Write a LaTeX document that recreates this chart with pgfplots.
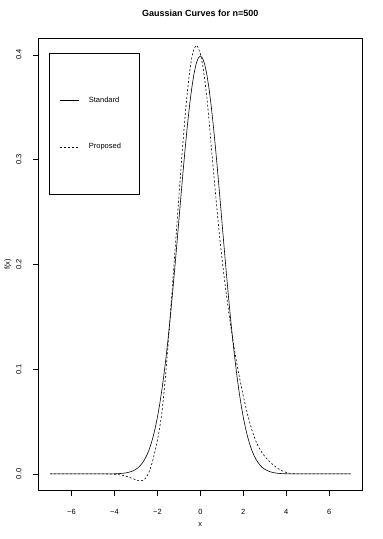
\documentclass[border=0pt]{standalone}
\usepackage{fontspec}
\setmainfont{Liberation Sans}
\usepackage{pgfplots}
\pgfplotsset{compat=1.18}
\begin{document}
\begin{tikzpicture}[font=\fontsize{7.5}{9}\selectfont]
\begin{axis}[
  name=ax,
  scale only axis,
  width=324.7pt, height=452.7pt,
  xmin=-7.56, xmax=7.56,
  ymin=-0.016, ymax=0.416,
  axis line style={black, line width=0.5pt},
  xtick={-6,-4,-2,0,2,4,6},
  xticklabels={−6,−4,−2,0,2,4,6},
  ytick={0,0.1,0.2,0.3,0.4},
  yticklabels={0.0,0.1,0.2,0.3,0.4},
  xtick pos=bottom, ytick pos=left,
  tick align=outside,
  major tick length=5pt,
  tick style={black, line width=0.5pt},
  xticklabel style={anchor=base, inner sep=0pt, yshift=-18.7pt},
  yticklabel style={xshift=-11.3pt, rotate=90, anchor=south, inner sep=0pt},
  title={\bfseries\fontsize{9}{11}\selectfont Gaussian Curves for n=500},
  title style={at={(axis description cs:0.5,1.042)}, anchor=center, inner sep=0pt},
  xlabel={x},
  xlabel style={at={(axis description cs:0.5,-0.0758)}, anchor=center, inner sep=0pt},
  ylabel={f(x)},
  ylabel style={at={(axis description cs:-0.0924,0.5)}, anchor=center, rotate=0, inner sep=0pt},
  legend cell align=left,
  legend style={at={(axis description cs:0.0348,0.9662)}, anchor=north west,
    draw=black, line width=0.5pt, inner sep=0pt, row sep=0pt, column sep=9.3pt,
    nodes={inner sep=0pt, text width=50pt, align=left}},
]
\addplot[black, line width=0.6pt,
  legend image code/.code={\path[draw=none,fill=none] (-10pt,-23.2pt) rectangle (19.7pt,47pt); \draw[black, line width=0.6pt] (0pt,0pt) -- (19.7pt,0pt);}]
coordinates {
(-7,0) (-5,0) (-4.5,0.00002) (-4.0,0.00013) (-3.8,0.00029) (-3.6,0.00061) (-3.4,0.00123) (-3.2,0.00238)
(-3.0,0.00443) (-2.9,0.00595) (-2.8,0.00792) (-2.7,0.01042) (-2.6,0.01358) (-2.5,0.01753)
(-2.4,0.02239) (-2.3,0.02833) (-2.2,0.03547) (-2.1,0.04398) (-2.0,0.05399) (-1.9,0.06562)
(-1.8,0.07895) (-1.7,0.09405) (-1.6,0.11092) (-1.5,0.12952) (-1.4,0.14973) (-1.3,0.17137)
(-1.2,0.19419) (-1.1,0.21785) (-1.0,0.24197) (-0.9,0.26609) (-0.8,0.28969) (-0.7,0.31225)
(-0.6,0.33322) (-0.5,0.35207) (-0.4,0.36827) (-0.3,0.38139) (-0.2,0.39104) (-0.1,0.39695)
(0.0,0.39894)
(0.1,0.39695) (0.2,0.39104) (0.3,0.38139) (0.4,0.36827) (0.5,0.35207) (0.6,0.33322)
(0.7,0.31225) (0.8,0.28969) (0.9,0.26609) (1.0,0.24197) (1.1,0.21785) (1.2,0.19419)
(1.3,0.17137) (1.4,0.14973) (1.5,0.12952) (1.6,0.11092) (1.7,0.09405) (1.8,0.07895)
(1.9,0.06562) (2.0,0.05399) (2.1,0.04398) (2.2,0.03547) (2.3,0.02833) (2.4,0.02239)
(2.5,0.01753) (2.6,0.01358) (2.7,0.01042) (2.8,0.00792) (2.9,0.00595) (3.0,0.00443)
(3.2,0.00238) (3.4,0.00123) (3.6,0.00061) (3.8,0.00029) (4.0,0.00013) (4.5,0.00002) (5,0) (7,0)
};
\addlegendentry{Standard}
\addplot[black, line width=0.6pt, dash pattern=on 2pt off 2pt,
  legend image code/.code={\path[draw=none,fill=none] (-10pt,-47.3pt) rectangle (19.7pt,23.2pt); \draw[black, line width=0.6pt, dash pattern=on 2pt off 2pt] (0pt,0pt) -- (19.7pt,0pt);}]
coordinates {
(-7,0) (-5,0) (-4.4,0) (-4.2,-0.0001) (-4.0,-0.0003) (-3.8,-0.0007) (-3.6,-0.0014) (-3.4,-0.0026)
(-3.2,-0.0041) (-3.0,-0.0056) (-2.9,-0.0063) (-2.8,-0.0066) (-2.7,-0.0064) (-2.6,-0.0052)
(-2.5,-0.0027) (-2.4,0.0012) (-2.3,0.0068) (-2.2,0.0140) (-2.1,0.0225) (-2.0,0.0320)
(-1.9,0.0430) (-1.8,0.0570) (-1.7,0.0760) (-1.6,0.0985) (-1.5,0.1240) (-1.4,0.1510)
(-1.3,0.1802) (-1.2,0.2075) (-1.1,0.2357) (-1.0,0.2643) (-0.9,0.2925) (-0.8,0.3190)
(-0.7,0.3440) (-0.6,0.3657) (-0.5,0.3837) (-0.4,0.3972) (-0.3,0.4057) (-0.19,0.4090)
(-0.1,0.4070) (0.0,0.4010) (0.1,0.3910) (0.2,0.3770) (0.3,0.3600) (0.4,0.3385)
(0.5,0.3145) (0.6,0.2915) (0.7,0.2690) (0.8,0.2470) (0.9,0.2255) (1.0,0.2070)
(1.1,0.1895) (1.2,0.1730) (1.3,0.1575) (1.4,0.1430) (1.5,0.1295) (1.6,0.1170)
(1.7,0.1053) (1.8,0.0943) (1.9,0.0840) (2.0,0.0743) (2.1,0.0652) (2.2,0.0567)
(2.3,0.0489) (2.4,0.0419) (2.5,0.0358) (2.6,0.0306) (2.7,0.0262) (2.8,0.0225)
(2.9,0.0194) (3.0,0.0167) (3.2,0.0122) (3.4,0.0085) (3.6,0.0054) (3.8,0.0030)
(4.0,0.0014) (4.2,0.0005) (4.4,0.0001) (4.6,0) (7,0)
};
\addlegendentry{Proposed}
\end{axis}
\path ([shift={(-38pt,-48.3pt)}]ax.south west) rectangle ([shift={(19.3pt,38pt)}]ax.north east);
\end{tikzpicture}
\end{document}
